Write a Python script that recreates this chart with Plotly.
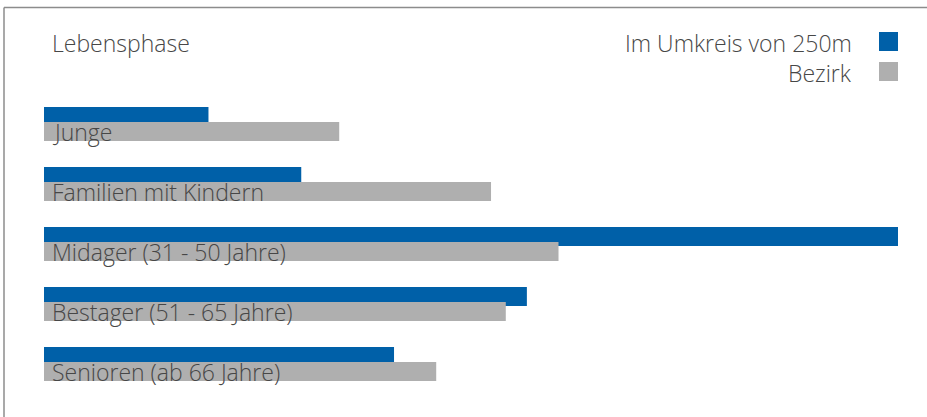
import plotly.graph_objects as go

categories = ["Junge", "Familien mit Kindern", "Midager (31 - 50 Jahre)",
              "Bestager (51 - 65 Jahre)", "Senioren (ab 66 Jahre)"]
umkreis = [7.8, 12.2, 40.5, 22.9, 16.6]
bezirk = [14.0, 21.2, 24.4, 21.9, 18.6]
series_names = ["Im Umkreis von 250m", "Bezirk"]
title_text = "Lebensphase"

BLUE = "#0060a8"
GRAY = "#afafaf"
TEXT = "#474747"
FONT = "Open Sans, sans-serif"
FS = 23

W, H = 927, 417
L, R, T, B = 44, 29, 94, 23
pw, ph = W - L - R, H - T - B

def px_x(x):
    return (x - L) / pw

def px_y(y):
    return (H - B - y) / ph

idx = list(range(len(categories)))

fig = go.Figure()
fig.add_trace(go.Bar(
    x=umkreis, y=idx, orientation="h", name=series_names[0],
    marker=dict(color=BLUE, line=dict(width=0)),
    width=0.317, offset=-0.283, hoverinfo="x",
))
fig.add_trace(go.Bar(
    x=bezirk, y=idx, orientation="h", name=series_names[1],
    marker=dict(color=GRAY, line=dict(width=0)),
    width=0.317, offset=-0.033, hoverinfo="x",
))

tfont = dict(family=FONT, size=FS, color=TEXT, weight=300)
annotations = []
for i, c in enumerate(categories):
    annotations.append(dict(
        x=0, y=i + 0.14, xref="x", yref="y", text=c, showarrow=False,
        xanchor="left", yanchor="middle", xshift=6, font=tfont,
    ))
annotations.append(dict(
    x=px_x(50), y=px_y(43), xref="paper", yref="paper", text=title_text,
    showarrow=False, xanchor="left", yanchor="middle", font=tfont,
))
for name, yc in zip(series_names, [43, 73]):
    annotations.append(dict(
        x=px_x(854), y=px_y(yc), xref="paper", yref="paper", text=name,
        showarrow=False, xanchor="right", yanchor="middle", font=tfont,
    ))

shapes = [
    dict(type="rect", xref="paper", yref="paper",
         x0=px_x(879), x1=px_x(898), y0=px_y(51), y1=px_y(32),
         fillcolor=BLUE, line=dict(width=0)),
    dict(type="rect", xref="paper", yref="paper",
         x0=px_x(879), x1=px_x(898), y0=px_y(81), y1=px_y(62),
         fillcolor=GRAY, line=dict(width=0)),
    dict(type="line", xref="paper", yref="paper",
         x0=px_x(4), x1=px_x(4), y0=px_y(7.5), y1=px_y(417),
         line=dict(color="#8c8c8c", width=1.5)),
    dict(type="line", xref="paper", yref="paper",
         x0=px_x(4), x1=px_x(927), y0=px_y(7.5), y1=px_y(7.5),
         line=dict(color="#8c8c8c", width=1.5)),
]

fig.update_layout(
    width=W, height=H, margin=dict(l=L, r=R, t=T, b=B, pad=0),
    barmode="overlay", showlegend=False,
    paper_bgcolor="white", plot_bgcolor="white",
    xaxis=dict(range=[0, max(umkreis)], visible=False, fixedrange=True),
    yaxis=dict(range=[len(categories) - 0.5, -0.5], visible=False, fixedrange=True),
    annotations=annotations, shapes=shapes,
    font=dict(family=FONT, color=TEXT),
)

fig.write_html("out.html", config={"displayModeBar": False},
               post_script="document.body.style.margin='0px';document.body.style.overflow='hidden';")
